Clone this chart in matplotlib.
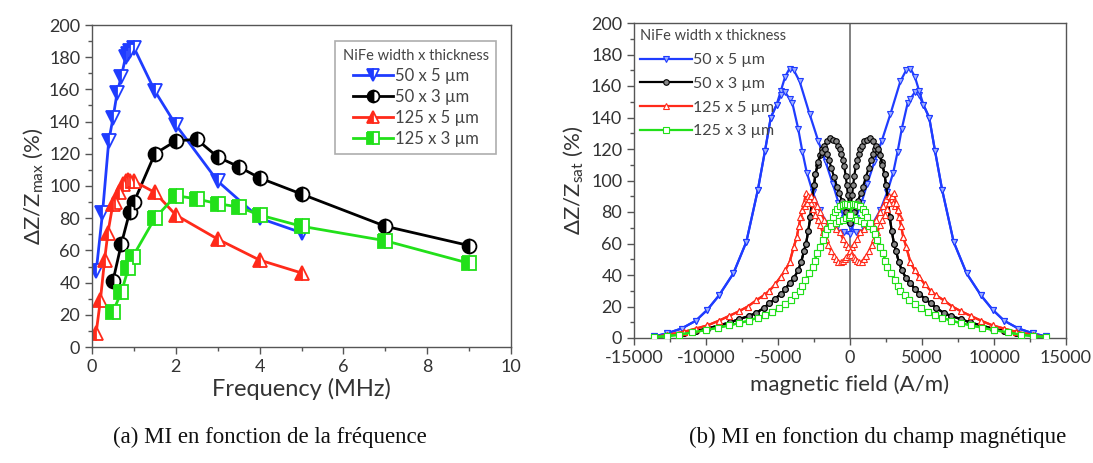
import matplotlib
matplotlib.use("Agg")
import matplotlib.pyplot as plt
from matplotlib.ticker import MultipleLocator

plt.rcParams['font.family'] = ['Lato', 'DejaVu Sans']
plt.rcParams['mathtext.default'] = 'regular'
plt.rcParams['axes.unicode_minus'] = False

# ---------------- (a) MI vs frequency ----------------
freq_blue = [0.1, 0.25, 0.4, 0.5, 0.6, 0.7, 0.8, 0.85, 0.9, 1.0, 1.5, 2, 3, 4, 5]
mi_blue = [47, 83, 128, 142, 158, 168, 180, 182, 184, 186, 159, 138, 103, 80, 71]

freq_black = [0.5, 0.7, 0.9, 1.0, 1.5, 2, 2.5, 3, 3.5, 4, 5, 7, 9]
mi_black = [41, 64, 84, 90, 120, 128, 129, 118, 112, 105, 95, 75, 63]

freq_red = [0.1, 0.2, 0.3, 0.38, 0.5, 0.55, 0.65, 0.75, 0.8, 0.85, 0.9, 1.0, 1.5, 2, 3, 4, 5]
mi_red = [9, 29, 54, 71, 89, 90, 96, 101, 103, 104, 103, 103, 96, 82, 67, 54, 46]

freq_green = [0.5, 0.7, 0.87, 0.97, 1.5, 2, 2.5, 3, 3.5, 4, 5, 7, 9]
mi_green = [22, 34, 49, 56, 80, 94, 92, 89, 87, 82, 75, 66, 52]

labels = ['50 x 5 µm', '50 x 3 µm', '125 x 5 µm', '125 x 3 µm']
colors = ['#1f3cff', '#000000', '#ff2a1a', '#22e01a']

# ---------------- (b) MI vs magnetic field ----------------
H_blue_A = [-13600, -12700, -11700, -10700, -9900, -9100, -8100, -7200, -6400, -5900, -5500, -5100,
            -4800, -4500, -4200, -3900, -3500, -2800, -2200, -1700, -1200, -800, -400, 0,
            400, 1000, 1600, 2100, 2600, 3000, 3300, 3600, 4000, 4200, 4500, 4800, 5100, 5500,
            5900, 6400, 7200, 8100, 9100, 9900, 10700, 11700, 12700, 13600]
mi_blue_A = [1, 3, 6, 11, 18, 27, 41, 61, 94, 119, 140, 148,
             157, 166, 171, 170, 163, 142, 125, 112, 98, 86, 76, 71,
             67, 69, 73, 81, 93, 105, 118, 133, 149, 152, 156, 154, 148, 140,
             119, 94, 61, 41, 27, 18, 11, 6, 3, 1]
H_blue_B = [-13600, -12700, -11700, -10700, -9900, -9100, -8100, -7200, -6400, -5900, -5500, -5100,
            -4800, -4500, -4200, -4000, -3600, -3300, -3000, -2600, -2100, -1600, -1000, -400, 0,
            400, 800, 1200, 1700, 2200, 2800, 3500, 3900, 4200, 4500, 4800, 5100, 5500,
            5900, 6400, 7200, 8100, 9100, 9900, 10700, 11700, 12700, 13600]
mi_blue_B = [1, 3, 6, 11, 18, 27, 41, 61, 94, 119, 140, 148,
             154, 156, 152, 149, 133, 118, 105, 93, 81, 73, 69, 67, 66,
             76, 86, 98, 112, 125, 142, 163, 170, 171, 166, 157, 148, 140,
             119, 94, 61, 41, 27, 18, 11, 6, 3, 1]

H_black_A = [-13600, -12700, -11500, -10700, -9900, -9100, -8300, -7700, -7000, -6500, -6000, -5600,
             -5200, -4800, -4500, -4200, -3900, -3600, -3400, -3200, -3050, -2900, -2750, -2650,
             -2500, -2400, -2250, -2100, -1950, -1800, -1600, -1400, -1200, -1000, -850, -700,
             -600, -500, -400, -300, -220, -150, -70, 0,
             70, 200, 300, 400, 550, 750, 900, 1100, 1300, 1450, 1600, 1750, 1950, 2200,
             2400, 2500, 2650, 2750, 2900, 3050, 3200, 3400, 3600, 3900, 4200, 4500, 4800,
             5200, 5600, 6000, 6500, 7000, 7700, 8300, 9100, 9900, 10700, 11500, 12700, 13600]
mi_black_A = [0.5, 1.5, 3, 4.5, 6, 8, 10, 12, 14, 16, 19, 22,
              25, 28, 31, 35, 38, 43, 48, 55, 60, 68, 77, 88,
              97, 104, 110, 116, 120, 122, 125, 127, 126, 125, 122, 120,
              117, 113, 109, 103, 97, 91, 85, 80,
              75, 77, 80, 83, 87, 92, 96, 102, 108, 113, 117, 120, 118, 112,
              104, 97, 88, 77, 68, 60, 55, 48, 43, 38, 35, 31, 28,
              25, 22, 19, 16, 14, 12, 10, 8, 6, 4.5, 3, 1.5, 0.5]
H_black_B = [-13600, -12700, -11500, -10700, -9900, -9100, -8300, -7700, -7000, -6500, -6000, -5600,
             -5200, -4800, -4500, -4200, -3900, -3600, -3400, -3200, -3050, -2900, -2750, -2650,
             -2500, -2400, -2200, -1950, -1750, -1600, -1450, -1300, -1100, -900, -750, -550,
             -400, -300, -200, -70, 0,
             70, 150, 220, 300, 400, 500, 600, 700, 850, 1000, 1200, 1400, 1600, 1800, 1950, 2100,
             2250, 2400, 2500, 2650, 2750, 2900, 3050, 3200, 3400, 3600, 3900, 4200, 4500, 4800,
             5200, 5600, 6000, 6500, 7000, 7700, 8300, 9100, 9900, 10700, 11500, 12700, 13600]
mi_black_B = [0.5, 1.5, 3, 4.5, 6, 8, 10, 12, 14, 16, 19, 22,
              25, 28, 31, 35, 38, 43, 48, 55, 60, 68, 77, 88,
              97, 104, 112, 118, 120, 117, 113, 108, 102, 96, 92, 87,
              83, 80, 77, 75, 73,
              85, 91, 97, 103, 109, 113, 117, 120, 122, 125, 126, 127, 125, 122, 120, 116,
              110, 104, 97, 88, 77, 68, 60, 55, 48, 43, 38, 35, 31, 28,
              25, 22, 19, 16, 14, 12, 10, 8, 6, 4.5, 3, 1.5, 0.5]

H_red_A = [-13600, -12700, -11500, -10700, -9900, -9100, -8400, -7700, -7100, -6500, -6000, -5600,
           -5200, -4800, -4500, -4200, -3900, -3700, -3550, -3400, -3300, -3200, -3050, -2900,
           -2700, -2550, -2400, -2250, -2100, -1900, -1700, -1500, -1300, -1100, -950, -800,
           -650, -500, -350, -250, -100, 0,
           150, 300, 500, 700, 1000, 1300, 1550, 1800, 2050, 2300, 2500, 2700, 2850, 3000,
           3150, 3300, 3450, 3550, 3700, 3900, 4200, 4500, 4800, 5200, 5600, 6000, 6500, 7100,
           7700, 8400, 9100, 9900, 10700, 11500, 12700, 13600]
mi_red_A = [0.5, 2, 4, 6, 8, 11, 14, 17, 20, 24, 27, 30,
            34, 39, 43, 48, 58, 64, 71, 77, 81, 86, 92, 90,
            86, 82, 78, 75, 72, 67, 63, 59, 55, 52, 50, 48.5,
            48, 49, 50, 51.5, 53, 55,
            58, 60, 63, 67, 69, 71, 73, 75, 80, 84, 88, 90, 88, 86,
            84, 81, 77, 71, 64, 58, 48, 43, 39, 34, 30, 27, 24, 20,
            17, 14, 11, 8, 6, 4, 2, 0.5]
H_red_B = [-13600, -12700, -11500, -10700, -9900, -9100, -8400, -7700, -7100, -6500, -6000, -5600,
           -5200, -4800, -4500, -4200, -3900, -3700, -3550, -3450, -3300, -3150, -3000, -2850,
           -2700, -2500, -2300, -2050, -1800, -1550, -1300, -1000, -700, -500, -300, -150, 0,
           100, 250, 350, 500, 650, 800, 950, 1100, 1300, 1500, 1700, 1900, 2100, 2250, 2400,
           2550, 2700, 2900, 3050, 3200, 3300, 3400, 3550, 3700, 3900, 4200, 4500, 4800, 5200,
           5600, 6000, 6500, 7100, 7700, 8400, 9100, 9900, 10700, 11500, 12700, 13600]
mi_red_B = [0.5, 2, 4, 6, 8, 11, 14, 17, 20, 24, 27, 30,
            34, 39, 43, 48, 58, 64, 71, 77, 81, 84, 86, 88,
            90, 88, 84, 80, 75, 73, 71, 69, 67, 63, 60, 58, 55,
            53, 51.5, 50, 49, 48, 48.5, 50, 52, 55, 59, 63, 67, 72, 75, 78,
            82, 86, 90, 92, 86, 81, 77, 71, 64, 58, 48, 43, 39, 34,
            30, 27, 24, 20, 17, 14, 11, 8, 6, 4, 2, 0.5]

H_green_A = [-13600, -12700, -11900, -11000, -10000, -9200, -8400, -7700, -7000, -6400, -5900, -5400,
             -4900, -4500, -4100, -3800, -3500, -3300, -3100, -2850, -2600, -2450, -2300, -2100,
             -1900, -1750, -1600, -1400, -1200, -1050, -900, -700, -500, -350, -200, 0,
             100, 300, 500, 750, 1000, 1300, 1600, 1750, 1900, 2100, 2300, 2450, 2600, 2850, 3100,
             3300, 3500, 3800, 4100, 4500, 4900, 5400, 5900, 6400, 7000, 7700, 8400, 9200, 10000,
             11000, 11900, 12700, 13600]
mi_green_A = [0.6, 1.2, 2, 3.5, 5, 6.5, 8, 9.5, 11, 13, 14.5, 16.5,
              19, 21.5, 24, 27, 30, 33, 37, 41, 45, 49, 54, 58,
              62, 66, 69, 73, 77, 80, 82, 83.5, 84.5, 85, 85, 84.5,
              77, 76, 75, 74, 73, 71, 69, 66, 62, 58, 54, 49, 45, 41, 37,
              33, 30, 27, 24, 21.5, 19, 16.5, 14.5, 13, 11, 9.5, 8, 6.5, 5,
              3.5, 2, 1.2, 0.6]
H_green_B = [-13600, -12700, -11900, -11000, -10000, -9200, -8400, -7700, -7000, -6400, -5900, -5400,
             -4900, -4500, -4100, -3800, -3500, -3300, -3100, -2850, -2600, -2450, -2300, -2100,
             -1900, -1750, -1600, -1300, -1000, -750, -500, -300, -100, 0,
             200, 350, 500, 700, 900, 1050, 1200, 1400, 1600, 1750, 1900, 2100, 2300, 2450, 2600,
             2850, 3100, 3300, 3500, 3800, 4100, 4500, 4900, 5400, 5900, 6400, 7000, 7700, 8400,
             9200, 10000, 11000, 11900, 12700, 13600]
mi_green_B = [0.6, 1.2, 2, 3.5, 5, 6.5, 8, 9.5, 11, 13, 14.5, 16.5,
              19, 21.5, 24, 27, 30, 33, 37, 41, 45, 49, 54, 58,
              62, 66, 69, 71, 73, 74, 75, 76, 77, 78,
              85, 85, 84.5, 83.5, 82, 80, 77, 73, 69, 66, 62, 58, 54, 49, 45,
              41, 37, 33, 30, 27, 24, 21.5, 19, 16.5, 14.5, 13, 11, 9.5, 8,
              6.5, 5, 3.5, 2, 1.2, 0.6]

W, Hh = 1093, 463
fig = plt.figure(figsize=(W / 100, Hh / 100), dpi=100)

spine_col = '#555555'


def style_axes(ax):
    for s in ax.spines.values():
        s.set_color(spine_col)
        s.set_linewidth(1.0)
    ax.tick_params(which='both', direction='out', colors=spine_col, labelcolor='#333333',
                   labelsize=13, top=False, right=False)
    ax.tick_params(which='major', length=5, width=1)
    ax.tick_params(which='minor', length=3, width=1)


# ---- left axes ----
ax1 = fig.add_axes([92 / W, 1 - 347 / Hh, 419 / W, 322 / Hh])
series_a = [(freq_blue, mi_blue, 'v'), (freq_black, mi_black, 'o'),
            (freq_red, mi_red, '^'), (freq_green, mi_green, 's')]
for (x, y, m), c, lab in zip(series_a, colors, labels):
    ax1.plot(x, y, color=c, lw=2, marker=m, ms=10, fillstyle='left',
             markerfacecolor=c, markerfacecoloralt='white', markeredgecolor=c,
             markeredgewidth=1.3, label=lab)
ax1.set_xlim(0, 10)
ax1.set_ylim(0, 200)
ax1.xaxis.set_major_locator(MultipleLocator(2))
ax1.xaxis.set_minor_locator(MultipleLocator(1))
ax1.yaxis.set_major_locator(MultipleLocator(20))
ax1.yaxis.set_minor_locator(MultipleLocator(10))
style_axes(ax1)
ax1.set_xlabel('Frequency (MHz)', fontsize=17, color='#333333', labelpad=2)
ax1.set_ylabel('ΔZ/Z$_{max}$ (%)', fontsize=16, color='#333333', labelpad=3)
leg1 = ax1.legend(loc='upper right', title='NiFe width x thickness', fontsize=12,
                  title_fontsize=10.5, frameon=True, fancybox=False, edgecolor='#999999',
                  handlelength=2.4, handletextpad=0.1, borderpad=0.45, labelspacing=0.3,
                  markerscale=0.85, bbox_to_anchor=(0.985, 0.975))
leg1.get_frame().set_linewidth(1.2)
for t in leg1.get_texts():
    t.set_color('#444444')
leg1.get_title().set_color('#444444')

# ---- right axes ----
ax2 = fig.add_axes([634 / W, 1 - 338 / Hh, 432 / W, 315 / Hh])
ax2.axvline(0, color='#777777', lw=1.3, zorder=1)
series_b = [
    (H_blue_A, mi_blue_A, H_blue_B, mi_blue_B, 'v'),
    (H_black_A, mi_black_A, H_black_B, mi_black_B, 'o'),
    (H_red_A, mi_red_A, H_red_B, mi_red_B, '^'),
    (H_green_A, mi_green_A, H_green_B, mi_green_B, 's'),
]
face_b = ['#9fb0ff', '#888888', 'white', 'white']
for (xa, ya, xb, yb, m), c, fc, lab in zip(series_b, colors, face_b, labels):
    ax2.plot(xa, ya, color=c, lw=1.6, marker=m, ms=4, markerfacecolor=fc,
             markeredgecolor=c, markeredgewidth=0.8, label=lab, zorder=3)
    ax2.plot(xb, yb, color=c, lw=1.6, marker=m, ms=4, markerfacecolor=fc,
             markeredgecolor=c, markeredgewidth=0.8, zorder=3)
ax2.set_xlim(-15000, 15000)
ax2.set_ylim(0, 200)
ax2.xaxis.set_major_locator(MultipleLocator(5000))
ax2.xaxis.set_minor_locator(MultipleLocator(2500))
ax2.yaxis.set_major_locator(MultipleLocator(20))
ax2.yaxis.set_minor_locator(MultipleLocator(10))
style_axes(ax2)
ax2.set_xlabel('magnetic field (A/m)', fontsize=16, color='#333333', labelpad=6)
ax2.set_ylabel('ΔZ/Z$_{sat}$ (%)', fontsize=16, color='#333333', labelpad=4)
leg2 = ax2.legend(loc='upper left', title='NiFe width x thickness', fontsize=11.5,
                  title_fontsize=10.5, frameon=False, handlelength=3.2, handletextpad=0.1,
                  borderpad=0.2, labelspacing=0.6, borderaxespad=0.2)
leg2._legend_box.align = 'left'
for t in leg2.get_texts():
    t.set_color('#444444')
leg2.get_title().set_color('#444444')

# ---- captions ----
fig.text(270 / W, 1 - 437 / Hh, '(a) MI en fonction de la fréquence', ha='center', va='center',
         fontsize=16.5, family='Liberation Serif', color='#111111')
fig.text(878 / W, 1 - 437 / Hh, '(b) MI en fonction du champ magnétique', ha='center', va='center',
         fontsize=16.5, family='Liberation Serif', color='#111111')

fig.savefig('out.png', dpi=100)
